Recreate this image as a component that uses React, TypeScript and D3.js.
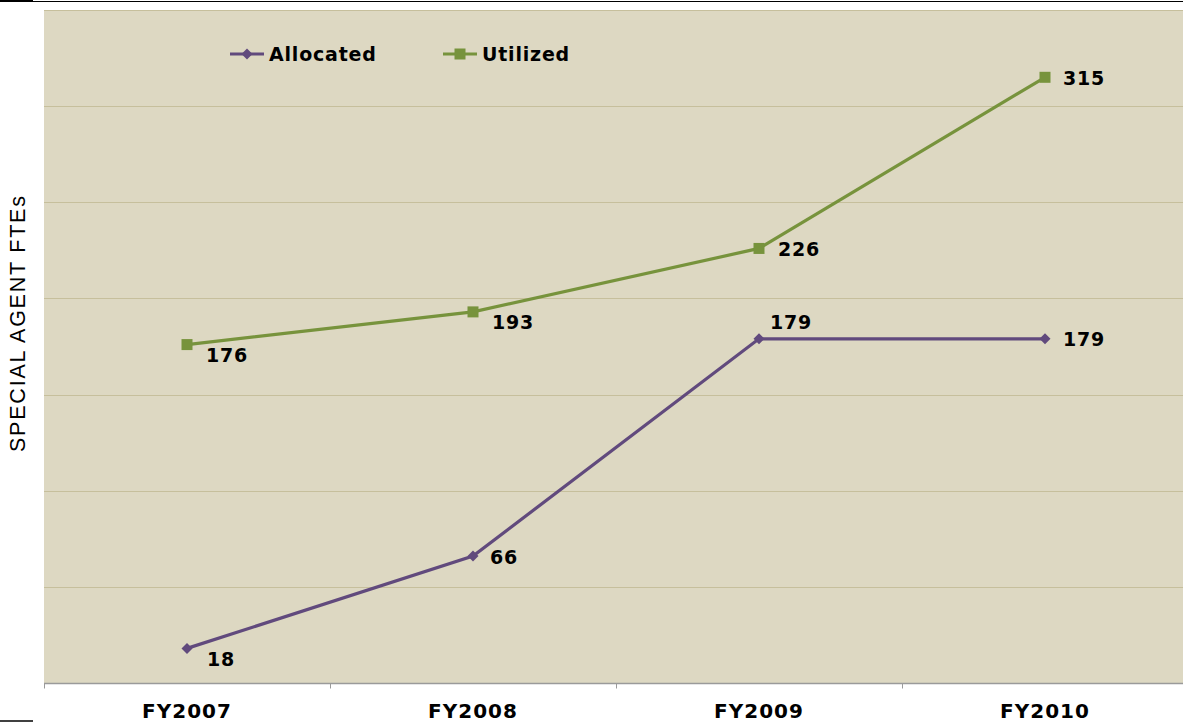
import { useEffect, useRef } from 'react';
import * as d3 from 'd3';

const YEARS = ['FY2007', 'FY2008', 'FY2009', 'FY2010'];
const ALLOCATED = [18, 66, 179, 179];
const UTILIZED = [176, 193, 226, 315];
const Y_TICKS = [0, 50, 100, 150, 200, 250, 300, 350];

// label placement per point: [dx, dy] relative to marker
const ALLOC_LABEL_POS = [[20, 11], [17, 1], [11, -16], [18, 1]];
const UTIL_LABEL_POS = [[19, 11], [19, 10], [19, 1], [18, 1]];

const W = 1183;
const H = 723;
const BOLD = 'DejaVu Sans, Verdana, sans-serif';

export default function App() {
  const ref = useRef<SVGSVGElement>(null);

  useEffect(() => {
    const svg = d3.select(ref.current);
    svg.selectAll('*').remove();

    const m = { top: 10, left: 44, right: 0, bottom: 40 };
    const x = d3.scaleBand().domain(YEARS).range([m.left, m.left + 286 * 4]);
    const y = d3.scaleLinear().domain([0, 350]).range([683, 10]);
    const cx = (d: string) => (x(d) as number) + x.bandwidth() / 2;

    // page edge lines
    svg.append('line').attr('x1', 0).attr('x2', 33).attr('y1', 1).attr('y2', 1).attr('stroke', '#000').attr('stroke-width', 2);
    svg.append('line').attr('x1', 33).attr('x2', W).attr('y1', 1.5).attr('y2', 1.5).attr('stroke', '#000').attr('stroke-width', 1);
    svg.append('line').attr('x1', 0).attr('x2', 33).attr('y1', 721).attr('y2', 721).attr('stroke', '#000').attr('stroke-width', 1.5);

    // plot area
    svg.append('rect').attr('x', m.left).attr('y', y(350)).attr('width', W - m.left).attr('height', y(0) - y(350)).attr('fill', '#DDD8C2');

    // gridlines
    svg.append('g').selectAll('line').data(Y_TICKS.slice(1)).join('line')
      .attr('x1', m.left).attr('x2', W)
      .attr('y1', d => Math.round(y(d)) + 0.5).attr('y2', d => Math.round(y(d)) + 0.5)
      .attr('stroke', '#C6BF9C').attr('stroke-width', 1);

    // x axis
    const ax = svg.append('g').attr('transform', `translate(0,${Math.round(y(0)) + 0.5})`);
    ax.append('line').attr('x1', m.left).attr('x2', W).attr('stroke', '#9A9A9A').attr('stroke-width', 1.5);
    ax.selectAll('line.tk').data(YEARS).join('line').attr('class', 'tk')
      .attr('x1', d => Math.round(x(d) as number) + 0.5).attr('x2', d => Math.round(x(d) as number) + 0.5)
      .attr('y1', 0).attr('y2', 5).attr('stroke', '#9A9A9A');
    ax.selectAll('text').data(YEARS).join('text')
      .attr('x', d => cx(d)).attr('y', 34).attr('text-anchor', 'middle')
      .attr('font-family', BOLD).attr('font-weight', 'bold').attr('font-size', 20)
      .attr('letter-spacing', 1)
      .attr('fill', '#000').text(d => d);

    // y title
    svg.append('text').attr('transform', `translate(25,324) rotate(-90)`)
      .attr('text-anchor', 'middle').attr('font-family', 'Liberation Sans, Arial, sans-serif')
      .attr('font-size', 21.5).attr('fill', '#000')
      .attr('textLength', 256).attr('lengthAdjust', 'spacing')
      .text('SPECIAL AGENT FTEs');

    const line = d3.line<number>().x((_, i) => cx(YEARS[i])).y(d => y(d));

    const series = [
      { name: 'Allocated', vals: ALLOCATED, color: '#614A7D', marker: 'diamond', pos: ALLOC_LABEL_POS },
      { name: 'Utilized', vals: UTILIZED, color: '#77933C', marker: 'square', pos: UTIL_LABEL_POS },
    ];

    const drawMarker = (g: d3.Selection<SVGGElement, unknown, null, undefined>, kind: string, px: number, py: number, color: string) => {
      if (kind === 'diamond') {
        g.append('path').attr('d', `M${px},${py - 5.5}L${px + 5.5},${py}L${px},${py + 5.5}L${px - 5.5},${py}Z`).attr('fill', color);
      } else {
        g.append('rect').attr('x', px - 5.5).attr('y', py - 5.5).attr('width', 11).attr('height', 11).attr('fill', color);
      }
    };

    series.forEach(s => {
      const g = svg.append('g');
      g.append('path').attr('d', line(s.vals)).attr('fill', 'none').attr('stroke', s.color).attr('stroke-width', 3.2);
      s.vals.forEach((v, i) => {
        const px = cx(YEARS[i]);
        const py = y(v);
        drawMarker(g, s.marker, px, py, s.color);
        g.append('text').attr('x', px + s.pos[i][0]).attr('y', py + s.pos[i][1]).attr('dy', '0.35em')
          .attr('font-family', BOLD).attr('font-weight', 'bold').attr('font-size', 19)
          .attr('letter-spacing', 0.8)
          .attr('fill', '#000').text(v);
      });
    });

    // legend
    const legend = [
      { s: series[0], x0: 230 },
      { s: series[1], x0: 443 },
    ];
    legend.forEach(({ s, x0 }) => {
      const g = svg.append('g');
      g.append('line').attr('x1', x0).attr('x2', x0 + 34).attr('y1', 54).attr('y2', 54).attr('stroke', s.color).attr('stroke-width', 3.2);
      drawMarker(g, s.marker, x0 + 17, 54, s.color);
      g.append('text').attr('x', x0 + 39).attr('y', 54).attr('dy', '0.35em')
        .attr('font-family', BOLD).attr('font-weight', 'bold').attr('font-size', 19)
        .attr('letter-spacing', 0.8)
        .attr('fill', '#000').text(s.name);
    });
  }, []);

  return (
    <svg ref={ref} width={W} height={H} style={{ position: 'fixed', left: 0, top: 0, background: '#fff' }} />
  );
}
